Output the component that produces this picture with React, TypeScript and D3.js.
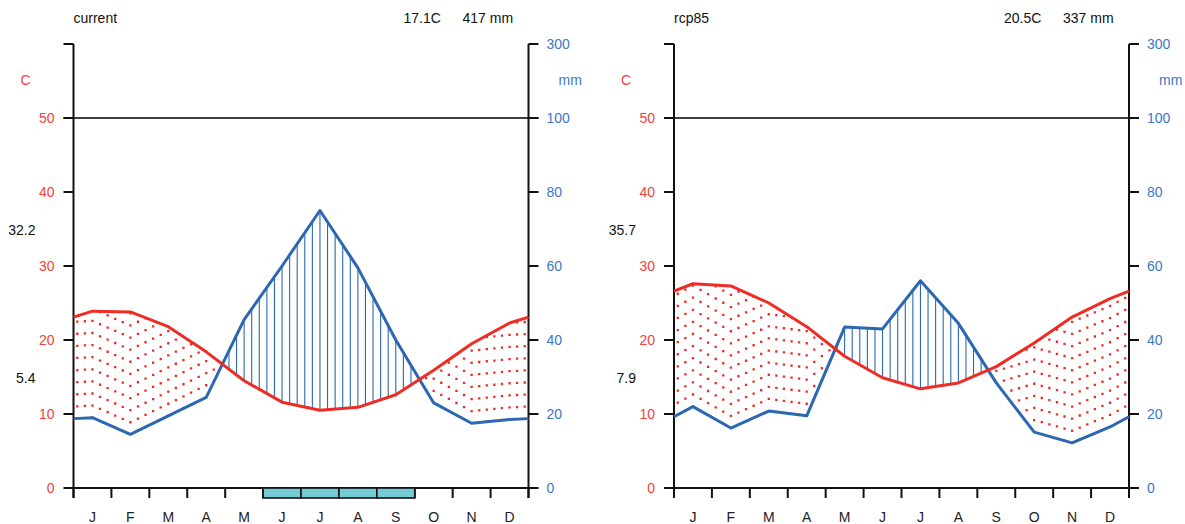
import { useRef, useEffect } from 'react'
import * as d3 from 'd3'

// monthly means
const months = ['J', 'F', 'M', 'A', 'M', 'J', 'J', 'A', 'S', 'O', 'N', 'D']

const currentTemp = [23.9, 23.8, 21.8, 18.4, 14.5, 11.6, 10.5, 10.9, 12.6, 15.9, 19.5, 22.3]
const currentPrec = [19, 14.5, 19.5, 24.5, 45.5, 60, 75, 59.5, 40, 23, 17.5, 18.5]
const currentFrost = [0, 0, 0, 0, 0, 1, 1, 1, 1, 0, 0, 0]

const rcpTemp = [27.6, 27.3, 25.0, 21.8, 17.8, 14.9, 13.4, 14.2, 16.4, 19.6, 23.1, 25.6]
const rcpPrec = [22, 16.2, 20.8, 19.5, 43.5, 43, 56, 44.5, 28.4, 15.1, 12.2, 16.5]
const rcpFrost = [0, 0, 0, 0, 0, 0, 0, 0, 0, 0, 0, 0]

const tempTicks = [0, 10, 20, 30, 40, 50]
const precTicks = [0, 20, 40, 60, 80, 100, 300]

const panels = [
  { name: 'current', temp: currentTemp, prec: currentPrec, frost: currentFrost, meanT: '17.1C', totalP: '417 mm', maxT: '32.2', minT: '5.4', left: 73.5 },
  { name: 'rcp85', temp: rcpTemp, prec: rcpPrec, frost: rcpFrost, meanT: '20.5C', totalP: '337 mm', maxT: '35.7', minT: '7.9', left: 674 }
]

const RED = '#ee2c24'
const RED_TXT = '#f5403a'
const BLUE = '#2c67b2'
const BLUE_TXT = '#3b78c4'
const FONT = '"Liberation Sans", Arial, sans-serif'

const W = 1185
const H = 524
const plotW = 455
const yBase = 488
const y50 = 118
const yTop = 44

// values at 0, month centres, 12 (edges use the Dec/Jan mean)
const withEdges = (v) => {
  const e = (v[0] + v[11]) / 2
  return [e, ...v, e]
}
const xPos = [0, ...months.map((m, i) => i + 0.5), 12]

const Climate = () => {
  const ref = useRef()

  useEffect(() => {
    const svg = d3.select(ref.current)
    svg.selectAll('*').remove()
    svg.attr('width', W).attr('height', H)

    const yT = d3.scaleLinear().domain([0, 50]).range([yBase, y50])
    const yP = d3.scaleLinear().domain([0, 100, 300]).range([yBase, y50, yTop])

    panels.forEach((p) => {
      const L = p.left
      const R = L + plotW
      const x = d3.scaleLinear().domain([0, 12]).range([L, R])
      const g = svg.append('g')

      const tAt = d3.scaleLinear().domain(xPos).range(withEdges(p.temp))
      const pAt = d3.scaleLinear().domain(xPos).range(withEdges(p.prec))

      // fill: vertical hatching (wet) or dotted lines (dry)
      const cols = d3.range(60).map((k) => 0.1 + 0.2 * k)
      cols.forEach((t) => {
        const yt = yT(tAt(t))
        const yp = yP(pAt(t))
        if (yp > yt) {
          g.append('line')
            .attr('x1', x(t)).attr('x2', x(t))
            .attr('y1', yp).attr('y2', yt)
            .attr('stroke', RED)
            .attr('stroke-width', 2.3)
            .attr('stroke-dasharray', '2.3 9.8')
            .attr('stroke-dashoffset', 1.15)
        } else {
          g.append('line')
            .attr('x1', x(t)).attr('x2', x(t))
            .attr('y1', yt).attr('y2', yp)
            .attr('stroke', BLUE)
            .attr('stroke-width', 1.1)
        }
      })

      // horizontal line at 50 C / 100 mm
      g.append('line')
        .attr('x1', L - 10).attr('x2', R + 10)
        .attr('y1', y50).attr('y2', y50)
        .attr('stroke', '#000').attr('stroke-width', 1.5)

      // axes
      const axis = g.append('g').attr('stroke', '#111').attr('stroke-width', 2).attr('fill', 'none')
      axis.append('line').attr('x1', L).attr('x2', L).attr('y1', yTop).attr('y2', yBase + 10)
      axis.append('line').attr('x1', R).attr('x2', R).attr('y1', yTop).attr('y2', yBase + 10)
      axis.append('line').attr('x1', L).attr('x2', R).attr('y1', yBase).attr('y2', yBase)
      axis.append('line').attr('x1', L - 10).attr('x2', L).attr('y1', yTop).attr('y2', yTop)
      axis.selectAll('.tl').data(tempTicks).enter().append('line')
        .attr('x1', L - 10).attr('x2', L)
        .attr('y1', (d) => yT(d)).attr('y2', (d) => yT(d))
      axis.selectAll('.tr').data(precTicks).enter().append('line')
        .attr('x1', R).attr('x2', R + 10)
        .attr('y1', (d) => yP(d)).attr('y2', (d) => yP(d))
      axis.selectAll('.tb').data(d3.range(13)).enter().append('line')
        .attr('x1', (d) => x(d)).attr('x2', (d) => x(d))
        .attr('y1', yBase).attr('y2', yBase + 10)

      // frost months
      g.selectAll('.frost').data(p.frost.map((f, i) => ({ f, i })).filter((d) => d.f))
        .enter().append('rect')
        .attr('x', (d) => x(d.i)).attr('y', yBase)
        .attr('width', x(1) - x(0)).attr('height', 10)
        .attr('fill', '#74cbd4').attr('stroke', '#111').attr('stroke-width', 1.6)

      // curves
      const line = d3.line().x((d) => x(d[0])).y((d) => d[1])
      g.append('path')
        .attr('d', line(xPos.map((t) => [t, yP(pAt(t))])))
        .attr('fill', 'none').attr('stroke', BLUE).attr('stroke-width', 3)
        .attr('stroke-linejoin', 'round')
      g.append('path')
        .attr('d', line(xPos.map((t) => [t, yT(tAt(t))])))
        .attr('fill', 'none').attr('stroke', RED).attr('stroke-width', 3)
        .attr('stroke-linejoin', 'round')

      // texts
      const txt = g.append('g').attr('font-family', FONT).attr('font-size', 14)
      txt.selectAll('.lt').data(tempTicks).enter().append('text')
        .attr('x', L - 19).attr('y', (d) => yT(d) + 5)
        .attr('text-anchor', 'end').attr('fill', RED_TXT)
        .text((d) => d)
      txt.selectAll('.rt').data(precTicks).enter().append('text')
        .attr('x', R + 18).attr('y', (d) => yP(d) + 5)
        .attr('fill', BLUE_TXT)
        .text((d) => d)
      txt.selectAll('.mt').data(months).enter().append('text')
        .attr('x', (d, i) => x(i + 0.5)).attr('y', 522)
        .attr('text-anchor', 'middle').attr('fill', '#222')
        .text((d) => d)
      txt.append('text').attr('x', L - 48).attr('y', 85).attr('text-anchor', 'middle')
        .attr('fill', RED_TXT).text('C')
      txt.append('text').attr('x', R + 30).attr('y', 85)
        .attr('fill', BLUE_TXT).text('mm')
      txt.append('text').attr('x', L).attr('y', 23).attr('fill', '#111').text(p.name)
      txt.append('text').attr('x', L + 330).attr('y', 23).attr('fill', '#111').text(p.meanT)
      txt.append('text').attr('x', L + 389).attr('y', 23).attr('fill', '#111').text(p.totalP)
      txt.append('text').attr('x', L - 38).attr('y', 235).attr('text-anchor', 'end')
        .attr('fill', '#111').text(p.maxT)
      txt.append('text').attr('x', L - 38).attr('y', 383).attr('text-anchor', 'end')
        .attr('fill', '#111').text(p.minT)
    })
  }, [])

  return (
    <svg ref={ref} style={{ position: 'absolute', left: 0, top: 0, background: '#fff' }} />
  )
}

export default function App () {
  return <Climate />
}
